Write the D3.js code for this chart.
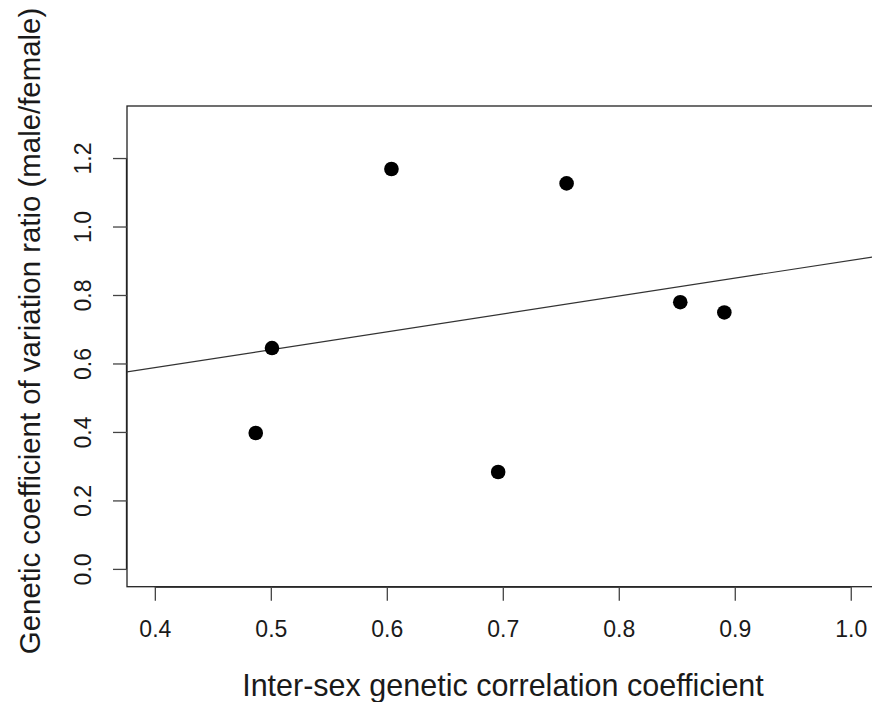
<!DOCTYPE html>
<html>
<head>
<meta charset="utf-8">
<script src="https://cdn.jsdelivr.net/npm/d3@7"></script>
<style>
  html, body { margin: 0; padding: 0; background: #fff; }
  svg { display: block; }
  text { font-family: "Liberation Sans", Arial, Helvetica, sans-serif; fill: #1a1a1a; }
</style>
</head>
<body>
<svg id="chart" width="872" height="702"></svg>
<script>
// Data
const xValues = [0.604, 0.755, 0.501, 0.487, 0.696, 0.853, 0.891];
const yValues = [1.168, 1.126, 0.645, 0.397, 0.283, 0.779, 0.749];
const xTicks = [0.4, 0.5, 0.6, 0.7, 0.8, 0.9, 1.0];
const yTicks = [0.0, 0.2, 0.4, 0.6, 0.8, 1.0, 1.2];
const xTickLabels = ["0.4", "0.5", "0.6", "0.7", "0.8", "0.9", "1.0"];
const yTickLabels = ["0.0", "0.2", "0.4", "0.6", "0.8", "1.0", "1.2"];
const fitIntercept = [0.3788];
const fitSlope = [0.5225];
const xLabel = "Inter-sex genetic correlation coefficient";
const yLabel = "Genetic coefficient of variation ratio (male/female)";

const svg = d3.select("#chart");
const pLeft = 127, pTop = 106, pRight = 878.6, pBottom = 586.7;

// R-style 4% expanded limits: xlim c(0.4,1.0), ylim c(0,1.3)
const x = d3.scaleLinear().domain([0.376, 1.024]).range([pLeft, pRight]);
const y = d3.scaleLinear().domain([-0.052, 1.352]).range([pBottom, pTop]);

// Plot box
svg.append("rect")
  .attr("x", pLeft).attr("y", pTop)
  .attr("width", pRight - pLeft).attr("height", pBottom - pTop)
  .attr("fill", "none").attr("stroke", "#222").attr("stroke-width", 1.3);

// X axis
const xAxis = d3.axisBottom(x).tickValues(xTicks)
  .tickFormat((d, i) => xTickLabels[i]).tickSize(14).tickPadding(20);
const gx = svg.append("g").attr("transform", `translate(0,${pBottom})`).call(xAxis);
gx.select(".domain").attr("d", `M${x(0.4)},0.5H${x(1.0)}`).attr("stroke", "#222").attr("stroke-width", 1.3);
gx.selectAll(".tick line").attr("stroke", "#444").attr("stroke-width", 1.3);
gx.selectAll(".tick text").attr("font-size", 23).attr("font-family", "Liberation Sans, Arial, sans-serif").attr("fill", "#1a1a1a");

// Y axis
const yAxis = d3.axisLeft(y).tickValues(yTicks)
  .tickFormat((d, i) => yTickLabels[i]).tickSize(14).tickPadding(0);
const gy = svg.append("g").attr("transform", `translate(${pLeft},0)`).call(yAxis);
gy.select(".domain").attr("d", `M-0.5,${y(0)}V${y(1.2)}`).attr("stroke", "#222").attr("stroke-width", 1.3);
gy.selectAll(".tick line").attr("stroke", "#444").attr("stroke-width", 1.3);
gy.selectAll(".tick text")
  .attr("font-size", 23).attr("font-family", "Liberation Sans, Arial, sans-serif").attr("fill", "#1a1a1a")
  .attr("x", null)
  .attr("dy", null)
  .attr("text-anchor", "middle")
  .attr("transform", "translate(-36,0) rotate(-90)");

// Regression line, clipped to plot region
svg.append("clipPath").attr("id", "clip")
  .append("rect").attr("x", pLeft).attr("y", pTop).attr("width", pRight - pLeft).attr("height", pBottom - pTop);
const x0 = x.domain()[0], x1 = x.domain()[1];
svg.append("line")
  .attr("clip-path", "url(#clip)")
  .attr("x1", x(x0)).attr("y1", y(fitIntercept[0] + fitSlope[0] * x0))
  .attr("x2", x(x1)).attr("y2", y(fitIntercept[0] + fitSlope[0] * x1))
  .attr("stroke", "#333").attr("stroke-width", 1.2);

// Points
svg.append("g").selectAll("circle")
  .data(xValues.map((v, i) => [v, yValues[i]]))
  .join("circle")
  .attr("cx", d => x(d[0])).attr("cy", d => y(d[1]))
  .attr("r", 7.3).attr("fill", "#000");

// Axis titles
svg.append("text")
  .attr("x", 503).attr("y", 696)
  .attr("text-anchor", "middle").attr("font-size", 30.5)
  .text(xLabel);
svg.append("text")
  .attr("transform", `translate(40,331) rotate(-90)`)
  .attr("text-anchor", "middle").attr("font-size", 29.4)
  .text(yLabel);
</script>
</body>
</html>
